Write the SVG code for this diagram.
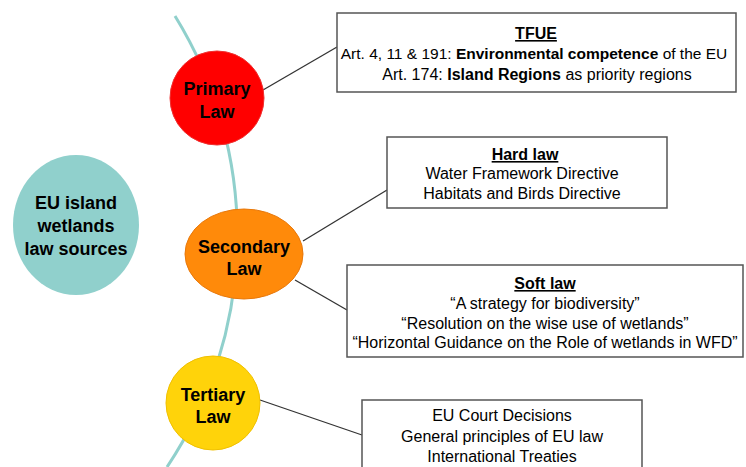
<svg xmlns="http://www.w3.org/2000/svg" width="746" height="467" viewBox="0 0 746 467">
<style>
  text { font-family: "Liberation Sans", Arial, sans-serif; fill: #000; text-anchor: middle; }
  .node { font-size: 18px; font-weight: bold; }
  .box { fill: #fff; stroke: #555; stroke-width: 1.5; }
  .bt { font-size: 16px; }
  .sm { font-size: 15.5px; }
  .head { font-weight: bold; text-decoration: underline; }
  .b { font-weight: bold; }
  .conn { stroke: #333; stroke-width: 1.3; fill: none; }
</style>
<rect width="746" height="467" fill="#fff"/>
<g id="spine">
  <path d="M175,16 A417,417 0 0,1 167,467" fill="none" stroke="#90d0cc" stroke-width="3"/>
</g>
<g id="connectors">
  <line class="conn" x1="263" y1="90" x2="337" y2="47"/>
  <line class="conn" x1="303" y1="241" x2="387" y2="190"/>
  <line class="conn" x1="295" y1="280" x2="347" y2="310"/>
  <line class="conn" x1="260" y1="400" x2="362" y2="435"/>
</g>
<g id="root">
  <ellipse cx="76" cy="225" rx="63" ry="70" fill="#90d0cc"/>
  <text class="node" x="76" y="209">EU island</text>
  <text class="node" x="76" y="232">wetlands</text>
  <text class="node" x="76" y="255">law sources</text>
</g>
<g id="primary">
  <circle cx="217" cy="98" r="47" fill="#ff0000" stroke="#f03030" stroke-width="1"/>
  <text class="node" x="217" y="95">Primary</text>
  <text class="node" x="217" y="118">Law</text>
</g>
<g id="secondary">
  <ellipse cx="244" cy="254" rx="59" ry="45" fill="#ff8a0a" stroke="#e8780a" stroke-width="1"/>
  <text class="node" x="244" y="253">Secondary</text>
  <text class="node" x="244" y="275">Law</text>
</g>
<g id="tertiary">
  <circle cx="213" cy="403" r="47" fill="#ffd30a" stroke="#f0c000" stroke-width="1"/>
  <text class="node" x="213" y="401">Tertiary</text>
  <text class="node" x="213" y="423">Law</text>
</g>
<g id="tfue">
  <rect class="box" x="337" y="13" width="399" height="79"/>
  <text class="bt head" x="536" y="39">TFUE</text>
  <text class="sm" x="534" y="59">Art. 4, 11 &amp; 191: <tspan class="b">Environmental competence</tspan> of the EU</text>
  <text class="bt" x="537" y="80">Art. 174: <tspan class="b">Island Regions</tspan> as priority regions</text>
</g>
<g id="hardlaw">
  <rect class="box" x="387" y="137" width="280" height="71"/>
  <text class="bt head" x="525" y="160">Hard law</text>
  <text class="bt" x="522" y="179">Water Framework Directive</text>
  <text class="bt" x="522" y="199">Habitats and Birds Directive</text>
</g>
<g id="softlaw">
  <rect class="box" x="347" y="265" width="396" height="92"/>
  <text class="bt head" x="545" y="289">Soft law</text>
  <text class="bt" x="545" y="309">“A strategy for biodiversity”</text>
  <text class="bt" x="545" y="329">“Resolution on the wise use of wetlands”</text>
  <text class="bt" x="545" y="348">“Horizontal Guidance on the Role of wetlands in WFD”</text>
</g>
<g id="tertiarybox">
  <rect class="box" x="362" y="400" width="280" height="80"/>
  <text class="bt" x="502" y="421">EU Court Decisions</text>
  <text class="bt" x="502" y="442">General principles of EU law</text>
  <text class="bt" x="502" y="462">International Treaties</text>
</g>
</svg>
